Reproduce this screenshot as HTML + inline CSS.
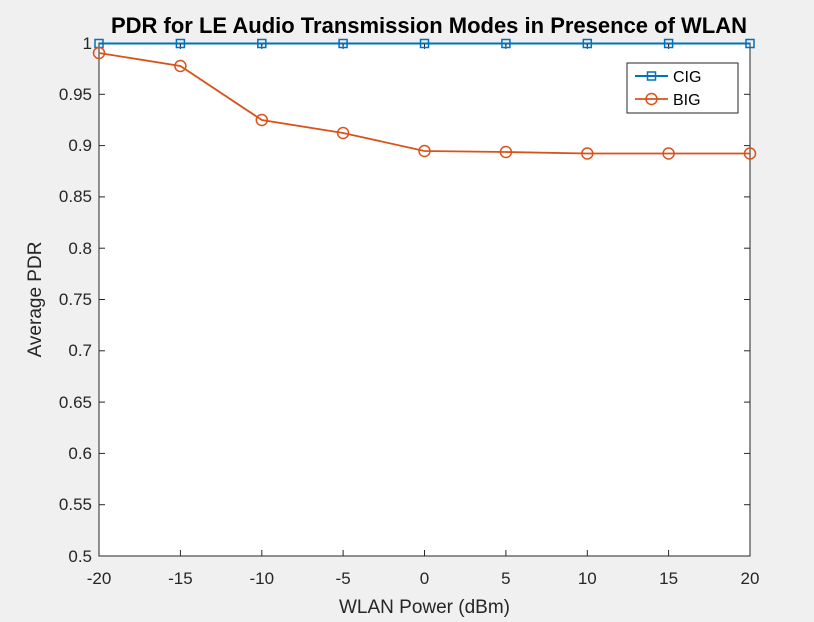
<!DOCTYPE html>
<html><head><meta charset="utf-8"><style>
html,body{margin:0;padding:0;background:#f0f0f0;}
svg{display:block;font-family:"Liberation Sans",Arial,sans-serif;}
</style></head><body>
<svg width="814" height="622" xmlns="http://www.w3.org/2000/svg">
<rect width="814" height="622" fill="#f0f0f0"/>
<rect x="99" y="43" width="651" height="513" fill="#fff" stroke="#262626" stroke-width="1"/>
<g stroke="#262626" stroke-width="1">
<line x1="99" y1="556" x2="99" y2="550"/><line x1="180.4" y1="556" x2="180.4" y2="550"/><line x1="261.8" y1="556" x2="261.8" y2="550"/><line x1="343.1" y1="556" x2="343.1" y2="550"/><line x1="424.5" y1="556" x2="424.5" y2="550"/><line x1="505.9" y1="556" x2="505.9" y2="550"/><line x1="587.3" y1="556" x2="587.3" y2="550"/><line x1="668.6" y1="556" x2="668.6" y2="550"/>
<line x1="180.4" y1="43" x2="180.4" y2="49"/><line x1="261.8" y1="43" x2="261.8" y2="49"/><line x1="343.1" y1="43" x2="343.1" y2="49"/><line x1="424.5" y1="43" x2="424.5" y2="49"/><line x1="505.9" y1="43" x2="505.9" y2="49"/><line x1="587.3" y1="43" x2="587.3" y2="49"/><line x1="668.6" y1="43" x2="668.6" y2="49"/>
<line x1="99" y1="504.7" x2="105" y2="504.7"/><line x1="99" y1="453.4" x2="105" y2="453.4"/><line x1="99" y1="402.1" x2="105" y2="402.1"/><line x1="99" y1="350.8" x2="105" y2="350.8"/><line x1="99" y1="299.5" x2="105" y2="299.5"/><line x1="99" y1="248.2" x2="105" y2="248.2"/><line x1="99" y1="196.9" x2="105" y2="196.9"/><line x1="99" y1="145.6" x2="105" y2="145.6"/><line x1="99" y1="94.3" x2="105" y2="94.3"/>
<line x1="750" y1="504.7" x2="744" y2="504.7"/><line x1="750" y1="453.4" x2="744" y2="453.4"/><line x1="750" y1="402.1" x2="744" y2="402.1"/><line x1="750" y1="350.8" x2="744" y2="350.8"/><line x1="750" y1="299.5" x2="744" y2="299.5"/><line x1="750" y1="248.2" x2="744" y2="248.2"/><line x1="750" y1="196.9" x2="744" y2="196.9"/><line x1="750" y1="145.6" x2="744" y2="145.6"/><line x1="750" y1="94.3" x2="744" y2="94.3"/>
</g>
<g font-size="17" fill="#262626" text-anchor="middle">
<text x="99" y="584">-20</text><text x="180.4" y="584">-15</text><text x="261.8" y="584">-10</text><text x="343.1" y="584">-5</text><text x="424.5" y="584">0</text><text x="505.9" y="584">5</text><text x="587.3" y="584">10</text><text x="668.6" y="584">15</text><text x="750" y="584">20</text>
</g>
<g font-size="17" fill="#262626" text-anchor="end">
<text x="92" y="562">0.5</text><text x="92" y="510">0.55</text><text x="92" y="459">0.6</text><text x="92" y="408">0.65</text><text x="92" y="356">0.7</text><text x="92" y="305">0.75</text><text x="92" y="254">0.8</text><text x="92" y="202">0.85</text><text x="92" y="151">0.9</text><text x="92" y="100">0.95</text><text x="92" y="49">1</text>
</g>
<text x="424.5" y="613" font-size="19" fill="#262626" text-anchor="middle">WLAN Power (dBm)</text>
<text transform="translate(41,299.5) rotate(-90)" font-size="19" fill="#262626" text-anchor="middle">Average PDR</text>
<text x="429" y="33" font-size="22" font-weight="bold" fill="#000" text-anchor="middle">PDR for LE Audio Transmission Modes in Presence of WLAN</text>
<polyline fill="none" stroke="#0072bd" stroke-width="2" points="99,43.5 180.4,43.5 261.8,43.5 343.1,43.5 424.5,43.5 505.9,43.5 587.3,43.5 668.6,43.5 750,43.5"/>
<g fill="none" stroke="#0072bd" stroke-width="1.5">
<rect x="95" y="39.5" width="8" height="8"/><rect x="176.4" y="39.5" width="8" height="8"/><rect x="257.8" y="39.5" width="8" height="8"/><rect x="339.1" y="39.5" width="8" height="8"/><rect x="420.5" y="39.5" width="8" height="8"/><rect x="501.9" y="39.5" width="8" height="8"/><rect x="583.3" y="39.5" width="8" height="8"/><rect x="664.6" y="39.5" width="8" height="8"/><rect x="746" y="39.5" width="8" height="8"/>
</g>
<g fill="#262626">
<rect x="98.5" y="44" width="1" height="2"/><rect x="179.9" y="44" width="1" height="2"/><rect x="261.3" y="44" width="1" height="2"/><rect x="342.6" y="44" width="1" height="2"/><rect x="424" y="44" width="1" height="2"/><rect x="505.4" y="44" width="1" height="2"/><rect x="586.8" y="44" width="1" height="2"/><rect x="668.1" y="44" width="1" height="2"/>
</g>
<polyline fill="none" stroke="#d95319" stroke-width="1.8" points="99,53 180.4,66 261.8,120 343.1,133 424.5,151 505.9,152 587.3,153.5 668.6,153.5 750,153.5"/>
<g fill="none" stroke="#d95319" stroke-width="1.5">
<circle cx="99" cy="53" r="5.5"/><circle cx="180.4" cy="66" r="5.5"/><circle cx="261.8" cy="120" r="5.5"/><circle cx="343.1" cy="133" r="5.5"/><circle cx="424.5" cy="151" r="5.5"/><circle cx="505.9" cy="152" r="5.5"/><circle cx="587.3" cy="153.5" r="5.5"/><circle cx="668.6" cy="153.5" r="5.5"/><circle cx="750" cy="153.5" r="5.5"/>
</g>
<rect x="627" y="63" width="111" height="50" fill="#fff" stroke="#262626" stroke-width="1"/>
<line x1="635" y1="76" x2="668" y2="76" stroke="#0072bd" stroke-width="2"/>
<rect x="647.5" y="72" width="8" height="8" fill="none" stroke="#0072bd" stroke-width="1.5"/>
<text x="673" y="82" font-size="16" fill="#000">CIG</text>
<line x1="635" y1="99" x2="668" y2="99" stroke="#d95319" stroke-width="1.8"/>
<circle cx="651.5" cy="99" r="5.5" fill="none" stroke="#d95319" stroke-width="1.5"/>
<text x="673" y="105" font-size="16" fill="#000">BIG</text>
</svg>
</body></html>
